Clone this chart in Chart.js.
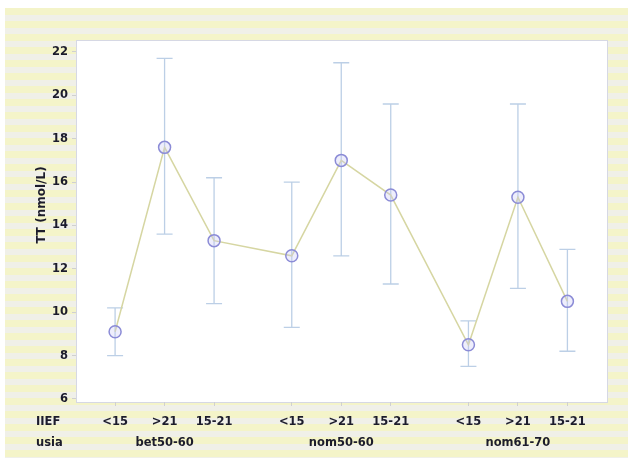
<!DOCTYPE html>
<html>
<head>
<meta charset="utf-8">
<script src="https://cdn.jsdelivr.net/npm/chart.js@4"></script>
<style>
  html, body { margin: 0; padding: 0; background: #fff; }
  #wrap { width: 628px; height: 458px; }
</style>
</head>
<body>
<div id="wrap"><canvas id="myChart" width="628" height="458"></canvas></div>
<script>
const groups = ['bet50-60', 'nom50-60', 'nom61-70'];
const iiefLevels = ['<15', '>21', '15-21'];
const meanTT  = [9.1, 17.6, 13.3, 12.6, 17.0, 15.4, 8.5, 15.3, 10.5];
const upperTT = [10.2, 21.7, 16.2, 16.0, 21.5, 19.6, 9.6, 19.6, 12.9];
const lowerTT = [8.0, 13.6, 10.4, 9.3, 12.6, 11.3, 7.5, 11.1, 8.2];
const yTicks = [6, 8, 10, 12, 14, 16, 18, 20, 22];

// groups sit apart from each other, levels 1 unit apart inside a group
const groupStride = 3.57;
const xOf = (g, i) => g * groupStride + i;

const points = [];
const tickInfo = [];
groups.forEach((grp, g) => {
  iiefLevels.forEach((lvl, i) => {
    const k = g * iiefLevels.length + i;
    points.push({ x: xOf(g, i), y: meanTT[k], lo: lowerTT[k], hi: upperTT[k] });
    tickInfo.push({ value: xOf(g, i), label: i === 1 ? [lvl, grp] : [lvl, ''] });
  });
});

const FONT = '"DejaVu Sans", Verdana, sans-serif';

const backdrop = {
  id: 'backdrop',
  beforeDraw(chart) {
    const ctx = chart.ctx;
    const a = chart.chartArea;
    ctx.save();
    ctx.fillStyle = '#ffffff';
    ctx.fillRect(0, 0, chart.width, chart.height);
    for (let y = 8; y < chart.height; y += 13) {
      ctx.fillStyle = '#f4f4c9';
      ctx.fillRect(5, y, chart.width - 5, 7);
      ctx.fillStyle = '#f0f0e8';
      ctx.fillRect(5, y + 7, chart.width - 5, 6);
    }
    ctx.fillStyle = '#ffffff';
    ctx.fillRect(a.left, a.top, a.right - a.left, a.bottom - a.top);
    ctx.strokeStyle = '#d6d8e4';
    ctx.lineWidth = 1;
    ctx.strokeRect(a.left + 0.5, a.top + 0.5, a.right - a.left, a.bottom - a.top);
    ctx.restore();
  }
};

const errorBars = {
  id: 'errorBars',
  beforeDatasetsDraw(chart) {
    const ctx = chart.ctx;
    const xs = chart.scales.x, ys = chart.scales.y;
    ctx.save();
    ctx.strokeStyle = '#bccfe6';
    ctx.lineWidth = 1.3;
    points.forEach(p => {
      const px = xs.getPixelForValue(p.x);
      const top = ys.getPixelForValue(p.hi);
      const bot = ys.getPixelForValue(p.lo);
      ctx.beginPath();
      ctx.moveTo(px, top); ctx.lineTo(px, bot);
      ctx.moveTo(px - 8, top); ctx.lineTo(px + 8, top);
      ctx.moveTo(px - 8, bot); ctx.lineTo(px + 8, bot);
      ctx.stroke();
    });
    ctx.restore();
  }
};

const sideText = {
  id: 'sideText',
  afterDraw(chart) {
    const ctx = chart.ctx;
    ctx.save();
    ctx.fillStyle = '#1c1c2c';
    ctx.font = 'bold 11.5px ' + FONT;
    ctx.textAlign = 'left';
    ctx.textBaseline = 'middle';
    ctx.fillText('IIEF', 36, 422);
    ctx.fillText('usia', 36, 443);
    ctx.translate(42, 205);
    ctx.rotate(-Math.PI / 2);
    ctx.textAlign = 'center';
    ctx.font = 'bold 12px ' + FONT;
    ctx.fillText('TT (nmol/L)', 0, 0);
    ctx.restore();
  }
};

const config = {
  type: 'line',
  data: {
    datasets: [{
      data: points,
      borderColor: '#d6d6a2',
      borderWidth: 1.5,
      pointRadius: 6,
      pointBackgroundColor: 'rgba(200,200,245,0.3)',
      pointBorderColor: '#8b8bd6',
      pointBorderWidth: 1.5,
      tension: 0
    }]
  },
  options: {
    animation: false,
    responsive: false,
    parsing: { xAxisKey: 'x', yAxisKey: 'y' },
    layout: { padding: { top: 40, right: 21, left: 0, bottom: 0 } },
    plugins: { legend: { display: false }, tooltip: { enabled: false } },
    scales: {
      x: {
        type: 'linear',
        min: -0.79,
        max: 9.94,
        afterBuildTicks: s => { s.ticks = tickInfo.map(t => ({ value: t.value })); },
        afterFit: s => { s.height = 56; },
        border: { display: false },
        grid: { drawOnChartArea: false, drawTicks: true, tickLength: 4, color: '#d0d0d0' },
        ticks: {
          autoSkip: false,
          maxRotation: 0,
          padding: 6,
          color: '#1c1c2c',
          font: { family: FONT, size: 11.5, weight: 'bold', lineHeight: 1.8 },
          callback: (v, i) => tickInfo[i].label
        }
      },
      y: {
        min: 5.86,
        max: 22.55,
        afterBuildTicks: s => { s.ticks = yTicks.map(v => ({ value: v })); },
        afterFit: s => { s.width = 76; },
        border: { display: false },
        grid: { drawOnChartArea: false, drawTicks: true, tickLength: 4, color: '#d0d0d0' },
        ticks: {
          padding: 4,
          color: '#1c1c2c',
          font: { family: FONT, size: 11.5, weight: 'bold' }
        }
      }
    }
  },
  plugins: [backdrop, errorBars, sideText]
};

const myChart = new Chart(document.getElementById('myChart'), config);
</script>
</body>
</html>
